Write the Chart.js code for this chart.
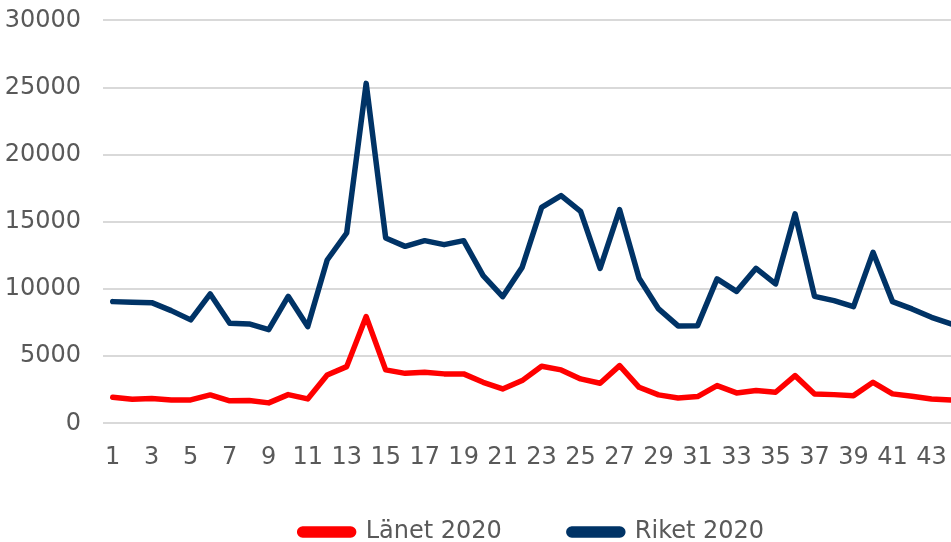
<!DOCTYPE html>
<html>
<head>
<meta charset="utf-8">
<script src="https://cdn.jsdelivr.net/npm/chart.js@4"></script>
<style>
  html, body { margin: 0; padding: 0; background: #fff; overflow: hidden; }
  canvas { display: block; margin-top: -16px; }
</style>
</head>
<body>
<canvas id="chart1" width="963" height="570"></canvas>
<script>
// weeks 1..44
var weeks = [];
for (var w = 1; w <= 44; w++) weeks.push(String(w));

var lanet2020 = [1935,1790,1840,1740,1740,2115,1670,1690,1520,2135,1815,3600,4220,7945,3975,
  3720,3800,3680,3680,3050,2560,3180,4245,3975,3305,2980,4295,2680,2115,1890,
  1990,2805,2260,2435,2310,3550,2190,2135,2060,3050,2190,2010,1815,1740];

var riket2020 = [9060,9010,8985,8390,7700,9630,7445,7400,6975,9455,7200,12160,14170,25310,13800,
  13175,13600,13300,13600,10995,9430,11610,16080,16950,15780,11540,15910,10795,8515,7250,
  7270,10750,9825,11540,10375,15590,9455,9135,8690,12730,9060,8515,7890,7400];

var yTicks = [0,5000,10000,15000,20000,25000,30000];

Chart.defaults.font.family = "'DejaVu Sans', Verdana, sans-serif";
Chart.defaults.font.size = 24;
Chart.defaults.color = "#595959";

// x labels sit in the gap above the legend, so don't clip them to the thin axis box
const unclipX = {
  id: 'unclipX',
  afterLayout: function (chart) {
    const x = chart.scales.x;
    x.bottom = x.top + 70;
  }
};

document.addEventListener("DOMContentLoaded", function () {
const ctx = document.getElementById("chart1");
const chart1 = new Chart(ctx, {
  type: 'line',
  data: {
    labels: weeks,
    datasets: [{
        data: lanet2020,
        label: "Länet 2020",
        borderColor: "#ff0000",
        backgroundColor: "#ff0000",
        borderWidth: 5.5,
        pointRadius: 0,
        borderJoinStyle: 'round',
        borderCapStyle: 'round',
        fill: false
      }, {
        data: riket2020,
        label: "Riket 2020",
        borderColor: "#003366",
        backgroundColor: "#003366",
        borderWidth: 5.5,
        pointRadius: 0,
        borderJoinStyle: 'round',
        borderCapStyle: 'round',
        fill: false
      }
    ]
  },
  plugins: [unclipX],
  options: {
    responsive: false,
    animation: false,
    layout: { padding: 0 },
    plugins: {
      tooltip: { enabled: false },
      legend: {
        position: 'bottom',
        fullSize: false,
        labels: {
          boxWidth: 54,
          boxHeight: 6,
          useBorderRadius: true,
          borderRadius: 3,
          padding: 67,
          color: "#595959"
        }
      }
    },
    scales: {
      x: {
        offset: true,
        grid: { display: false },
        border: { display: false },
        ticks: {
          autoSkip: false,
          maxRotation: 0,
          padding: 12,
          callback: function (v, i) { return i % 2 === 0 ? weeks[i] : ''; }
        },
        afterFit: function (s) { s.height = 29.7; }
      },
      y: {
        min: 0,
        max: 30000,
        afterBuildTicks: function (s) { s.ticks = yTicks.map(function (v) { return { value: v }; }); },
        grid: { color: "#d9d9d9", lineWidth: 2, drawTicks: false },
        border: { display: false },
        ticks: { padding: 22, callback: function (v) { return String(v); } },
        afterFit: function (s) { s.width = 103; }
      }
    }
  }
});
});
</script>
</body>
</html>
